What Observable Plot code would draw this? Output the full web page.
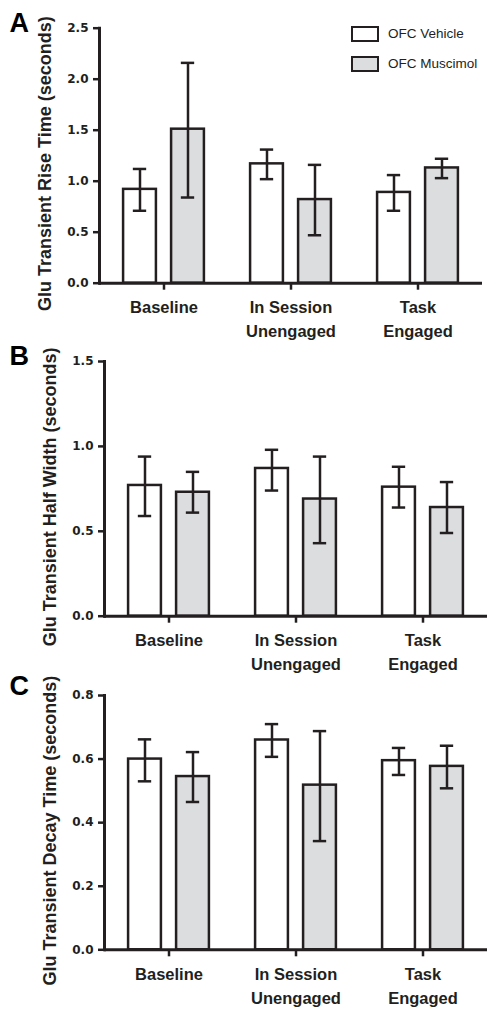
<!DOCTYPE html>
<html>
<head>
<meta charset="utf-8">
<script src="https://cdn.jsdelivr.net/npm/d3@7"></script>
<script src="https://cdn.jsdelivr.net/npm/@observablehq/plot@0.6"></script>
<style>
  body { margin: 0; background: #fff; }
  #root { position: relative; width: 487px; height: 1009px; font-family: "Liberation Sans", Arial, sans-serif; }
  #root svg { display: block; overflow: visible; }
  .legend { position: absolute; left: 351px; top: 26px; font-size: 13.5px; color: #231f20; }
  .legend .item { position: relative; height: 29.5px; }
  .legend .box { position: absolute; left: 0; top: 0; width: 24px; height: 12px; border: 2.5px solid #231f20; }
  .legend .lab { position: absolute; left: 37px; top: -1px; line-height: 17px; white-space: nowrap; }
</style>
</head>
<body>
<div id="root"></div>
<script>
// ---------- data ----------
const categories = ["Baseline", "In Session\nUnengaged", "Task\nEngaged"];
const groups = ["OFC Vehicle", "OFC Muscimol"];

// Panel A: rise time (s)
const riseVehicle   = [0.92, 1.17, 0.89];
const riseVehicleLo = [0.71, 1.02, 0.71];
const riseVehicleHi = [1.12, 1.31, 1.06];
const riseMuscimol   = [1.51, 0.82, 1.13];
const riseMuscimolLo = [0.84, 0.47, 1.03];
const riseMuscimolHi = [2.16, 1.16, 1.22];

// Panel B: half width (s)
const halfVehicle   = [0.77, 0.87, 0.76];
const halfVehicleLo = [0.59, 0.74, 0.64];
const halfVehicleHi = [0.94, 0.98, 0.88];
const halfMuscimol   = [0.73, 0.69, 0.64];
const halfMuscimolLo = [0.61, 0.43, 0.49];
const halfMuscimolHi = [0.85, 0.94, 0.79];

// Panel C: decay time (s)
const decayVehicle   = [0.600, 0.660, 0.595];
const decayVehicleLo = [0.530, 0.607, 0.550];
const decayVehicleHi = [0.662, 0.710, 0.635];
const decayMuscimol   = [0.545, 0.518, 0.577];
const decayMuscimolLo = [0.465, 0.342, 0.508];
const decayMuscimolHi = [0.622, 0.688, 0.642];

const riseTicks  = [0, 0.5, 1.0, 1.5, 2.0, 2.5];
const halfTicks  = [0, 0.5, 1.0, 1.5];
const decayTicks = [0, 0.2, 0.4, 0.6, 0.8];

// ---------- drawing ----------
const W = 487;
const INK = "#231f20";
const FILLS = ["#ffffff", "#dcdddf"];
const FONT = "Liberation Sans, Arial, sans-serif";
const root = document.getElementById("root");

function panel(o) {
  const rows = [];
  categories.forEach((c, i) => {
    rows.push({cat: c, group: groups[0], v: o.veh[i], lo: o.vehLo[i], hi: o.vehHi[i]});
    rows.push({cat: c, group: groups[1], v: o.mus[i], lo: o.musLo[i], hi: o.musHi[i]});
  });
  const bw = (W - o.ml - o.mr) / categories.length;
  const off = 24, barW = 33.5, capW = 14;
  const marks = [];
  groups.forEach((g, k) => {
    const data = rows.filter(d => d.group === g);
    const s = k === 0 ? -1 : 1;
    marks.push(Plot.barY(data, {
      x: "cat", y: "v", fill: FILLS[k], stroke: INK, strokeWidth: 2.5,
      insetLeft: bw / 2 + s * off - barW / 2, insetRight: bw / 2 - s * off - barW / 2
    }));
  });
  groups.forEach((g, k) => {
    const data = rows.filter(d => d.group === g);
    const s = k === 0 ? -1 : 1;
    const capL = bw / 2 + s * off - capW / 2, capR = bw / 2 - s * off - capW / 2;
    marks.push(Plot.ruleX(data, {x: "cat", y1: "lo", y2: "hi", dx: s * off, stroke: INK, strokeWidth: 2.5}));
    marks.push(Plot.tickY(data, {x: "cat", y: "hi", insetLeft: capL, insetRight: capR, stroke: INK, strokeWidth: 2.5}));
    marks.push(Plot.tickY(data, {x: "cat", y: "lo", insetLeft: capL, insetRight: capR, stroke: INK, strokeWidth: 2.5}));
  });
  marks.push(Plot.ruleY([0], {stroke: INK, strokeWidth: 3}));
  marks.push(Plot.frame({anchor: "left", stroke: INK, strokeWidth: 3}));
  marks.push(Plot.axisY({
    ticks: o.ticks, tickFormat: d3.format(".1f"), tickSize: 6, tickPadding: 5,
    stroke: INK, strokeWidth: 2.5, fill: INK, fontSize: 12, fontWeight: "bold",
    fontFamily: "DejaVu Sans", label: null
  }));
  marks.push(Plot.axisX({
    tickSize: 7, tickPadding: 6, stroke: INK, strokeWidth: 2.5, fill: INK,
    fontSize: 16.5, fontWeight: "bold", lineHeight: 1.45, fontFamily: FONT, label: null
  }));
  marks.push(Plot.text([o.title], {
    text: d => d, frameAnchor: "left", rotate: -90, dx: o.labelX - o.ml, dy: 8,
    textAnchor: "middle", lineAnchor: "middle", fontSize: 18, fontWeight: "bold", fill: INK, fontFamily: FONT
  }));
  marks.push(Plot.text([o.letter], {
    text: d => d, frameAnchor: "top-left", dx: 9 - o.ml, dy: o.letterY - o.mt,
    textAnchor: "start", lineAnchor: "top", fontSize: 27, fontWeight: "bold", fill: "#000", fontFamily: FONT
  }));
  const chart = Plot.plot({
    width: W, height: o.height,
    marginTop: o.mt, marginBottom: o.mb, marginLeft: o.ml, marginRight: o.mr,
    style: {background: "transparent", overflow: "visible", fontFamily: FONT, color: INK},
    x: {domain: categories, padding: 0, axis: null},
    y: {domain: o.domain, axis: null},
    marks
  });
  root.appendChild(chart);
}

panel({letter: "A", title: "Glu Transient Rise Time (seconds)", veh: riseVehicle, vehLo: riseVehicleLo, vehHi: riseVehicleHi,
  mus: riseMuscimol, musLo: riseMuscimolLo, musHi: riseMuscimolHi, domain: [0, 2.5], ticks: riseTicks,
  height: 330, mt: 27.7, mb: 47.3, ml: 99, mr: 5, labelX: 45, letterY: 12});
panel({letter: "B", title: "Glu Transient Half Width (seconds)", veh: halfVehicle, vehLo: halfVehicleLo, vehHi: halfVehicleHi,
  mus: halfMuscimol, musLo: halfMuscimolLo, musHi: halfMuscimolHi, domain: [0, 1.5], ticks: halfTicks,
  height: 340, mt: 31, mb: 54.3, ml: 104, mr: 0, labelX: 50, letterY: 15});
panel({letter: "C", title: "Glu Transient Decay Time (seconds)", veh: decayVehicle, vehLo: decayVehicleLo, vehHi: decayVehicleHi,
  mus: decayMuscimol, musLo: decayMuscimolLo, musHi: decayMuscimolHi, domain: [0, 0.8], ticks: decayTicks,
  height: 339, mt: 25, mb: 59.7, ml: 104, mr: 0, labelX: 50, letterY: 5});

// legend (HTML, over panel A)
const legend = document.createElement("div");
legend.className = "legend";
groups.forEach((g, k) => {
  const item = document.createElement("div");
  item.className = "item";
  const box = document.createElement("div");
  box.className = "box";
  box.style.background = FILLS[k];
  const lab = document.createElement("div");
  lab.className = "lab";
  lab.textContent = g;
  item.appendChild(box); item.appendChild(lab);
  legend.appendChild(item);
});
root.appendChild(legend);
</script>
</body>
</html>
